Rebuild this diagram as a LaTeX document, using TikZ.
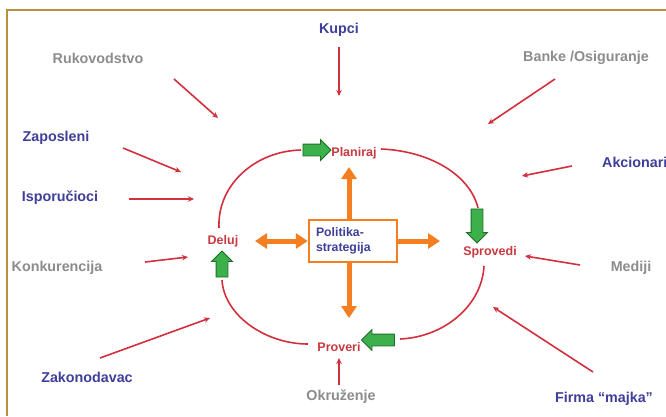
\documentclass[tikz,border=0pt]{standalone}
\usepackage{fontspec}
\setmainfont{Liberation Sans}
\usetikzlibrary{arrows.meta,shapes.arrows}
\definecolor{lblue}{HTML}{3F3F9A}
\definecolor{lgray}{HTML}{8C8C8C}
\definecolor{lred}{HTML}{D2303C}
\definecolor{tred}{HTML}{C83A40}
\definecolor{lorange}{HTML}{F57F20}
\definecolor{lgreen}{HTML}{3CB04A}
\definecolor{dgreen}{HTML}{1E6E28}
\definecolor{lgold}{HTML}{B8913A}
\begin{document}
\begin{tikzpicture}[x=1pt,y=-1pt,
 outer/.style={font=\bfseries\fontsize{14.3}{16}\selectfont, inner sep=0pt},
 actor/.style={outer,text=lblue},
 env/.style={outer,text=lgray},
 phase/.style={font=\bfseries\fontsize{12.5}{14}\selectfont,text=tred,inner sep=0pt},
 infl/.style={draw=lred,line width=1.6pt,-{Stealth[length=6pt,width=5.5pt]}},
 cyc/.style={draw=lred,line width=1.6pt},
 oarr/.style={draw=lorange,line width=5pt,-{Triangle[length=12pt,width=15pt]}},
 garrow/.style={single arrow, fill=lgreen, draw=dgreen, line width=0.8pt, inner xsep=0pt, inner ysep=5.5pt, minimum height=30pt, single arrow head extend=4.5pt, single arrow head indent=0pt}
]
\useasboundingbox (0,0) rectangle (666,416);
\fill[white] (0,0) rectangle (666,416);
\draw[lgold,line width=1.3pt] (7,416) -- (7,10) -- (666,10);

% outer labels
\node[actor] (kupci) at (339,30) {Kupci};
\node[env] (ruk) at (98,58) {Rukovodstvo};
\node[env] (banke) at (586,58) {Banke /Osiguranje};
\node[actor] (zap) at (56,138) {Zaposleni};
\node[actor,anchor=west] (akc) at (602,162) {Akcionari};
\node[actor] (isp) at (60,198) {Isporučioci};
\node[env] (konk) at (57,268) {Konkurencija};
\node[env] (med) at (631,268) {Mediji};
\node[actor] (zak) at (87,377) {Zakonodavac};
\node[actor] (firma) at (604,399) {Firma “majka”};
\node[env] (okr) at (341,397) {Okruženje};

% influence arrow end points
\coordinate (kupciE) at (339,96);
\coordinate (rukE) at (218,118);
\coordinate (bankeE) at (488,124);
\coordinate (zapE) at (181,172);
\coordinate (akcE) at (522,176);
\coordinate (ispE) at (194,199);
\coordinate (konkE) at (188,257);
\coordinate (medE) at (525,256);
\coordinate (zakE) at (210,318);
\coordinate (firmaE) at (493,307);
\coordinate (okrE) at (339,358);

\draw[infl] (339,47) -- (kupciE);
\draw[infl] (174,79) -- (rukE);
\draw[infl] (555,79) -- (bankeE);
\draw[infl] (123,148) -- (zapE);
\draw[infl] (572,166) -- (akcE);
\draw[infl] (129,199) -- (ispE);
\draw[infl] (145,262) -- (konkE);
\draw[infl] (580,265) -- (medE);
\draw[infl] (100,358) -- (zakE);
\draw[infl] (593,372) -- (firmaE);
\draw[infl] (339,385) -- (okrE);

% cycle phases
\node[phase] (plan) at (354,153) {Planiraj};
\node[phase] (spro) at (490,252) {Sprovedi};
\node[phase] (prov) at (339,347) {Proveri};
\node[phase] (delu) at (223,241) {Deluj};

% central box
\node[draw=lorange,line width=2.5pt,fill=white,text width=74pt,minimum height=42pt,
  font=\bfseries\fontsize{12.3}{15}\selectfont,text=lblue,align=left,inner xsep=7pt,inner ysep=0pt] (pol) at (353,241)
  {Politika-\\strategija};

% orange arrows
\draw[oarr] (pol.north -| 349,0) -- (349,167);
\draw[oarr] (pol.south -| 349,0) -- (349,318);
\draw[oarr] (pol.east) -- (440,241);
\draw[draw=lorange,line width=5pt,{Triangle[length=12pt,width=15pt]}-{Triangle[length=12pt,width=15pt]}] (255,241) -- (pol.west);

% cycle arcs
\coordinate (a1s) at (219,228);
\coordinate (a1e) at (301,150);
\coordinate (a2s) at (381,149);
\coordinate (a2e) at (478,208);
\coordinate (a3s) at (484,266);
\coordinate (a3e) at (400,339);
\coordinate (a4s) at (222,280);
\coordinate (a4e) at (308,344);
\draw[cyc] (a1s) .. controls (217,185) and (255,151) .. (a1e);
\draw[cyc] (a2s) .. controls (430,151) and (470,175) .. (a2e);
\draw[cyc] (a3s) .. controls (482,305) and (445,337) .. (a3e);
\draw[cyc] (a4s) .. controls (224,315) and (265,344) .. (a4e);

% green block arrows
\node[garrow,minimum height=28pt] (g1) at (314,150) {};
\node[garrow,rotate=-90,minimum height=34pt] (g2) at (477,223) {};
\node[garrow,rotate=180,minimum height=33pt] (g3) at (381,340) {};
\node[garrow,rotate=90,minimum height=26pt] (g4) at (222,267) {};
\end{tikzpicture}
\end{document}
